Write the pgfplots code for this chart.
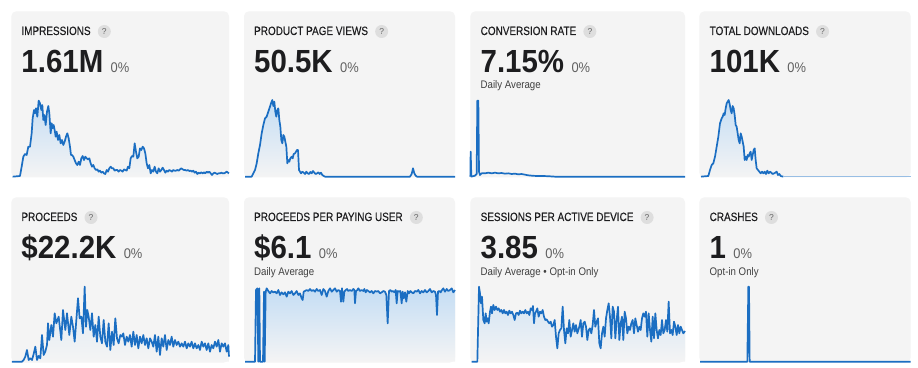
\documentclass[border=0pt]{standalone}
\usepackage{pgfplots}
\pgfplotsset{compat=1.18}
\usepackage{pgfplotstable}
\usepackage{fontspec}
\setmainfont{Liberation Sans}
\newfontfamily\titlefont[FakeBold=0.25]{Liberation Sans}
\definecolor{card}{HTML}{F4F4F4}
\definecolor{lnc}{HTML}{1B6EC2}
\definecolor{fillb}{HTML}{C4DDF4}
\definecolor{qbg}{HTML}{DEDEDE}
\definecolor{ink}{HTML}{1D1D1F}

\pgfplotsset{
 panel/.style={x=0.33333pt, y=0.33333pt, ymin=0, ymax=235, axis lines=none, clip=false, anchor=south west, ticks=none},
 ln/.style={draw=lnc, line width=1.7pt, line join=round, mark=none},
 ar/.style={draw=none, top color=fillb, bottom color=card}
}

% ---------- data: x and y read in pixels of a 3x crop; y measured downward ----------
\pgfplotstableread{
x y
38 530
60 528
65 500
70 470
75 462
80 465
85 440
90 440
95 400
98 355
102 330
105 340
108 325
112 350
116 302
120 310
124 330
127 315
130 360
133 345
137 375
141 335
145 318
148 340
152 400
155 370
158 385
161 375
164 390
167 410
170 395
174 420
178 405
182 430
186 420
190 435
194 425
198 410
202 400
206 415
210 440
213 465
216 465
220 470
224 480
228 490
232 495
236 485
240 495
244 475
248 468
252 480
256 470
260 475
264 478
268 475
272 490
276 500
280 495
284 505
288 510
292 508
296 515
300 512
304 518
308 515
312 520
316 522
320 510
324 515
328 505
332 500
336 505
340 505
344 512
348 510
352 510
356 515
360 510
364 512
368 515
372 508
376 510
380 512
384 500
388 505
392 475
396 468
400 470
404 430
408 455
412 475
416 470
420 445
424 450
428 440
432 445
436 460
440 490
444 505
448 495
452 520
456 510
460 515
464 500
468 515
472 520
476 505
480 515
484 510
488 503
492 510
496 518
500 512
504 515
508 510
512 512
516 515
520 510
524 512
528 512
532 510
536 512
540 508
544 505
548 508
552 510
556 510
560 512
564 510
568 513
572 512
576 515
580 512
584 518
588 515
592 522
596 518
600 520
604 517
608 520
612 517
616 520
620 515
624 518
628 515
632 520
636 525
640 520
644 518
648 520
652 522
656 520
660 520
664 518
668 520
672 520
676 518
680 515
684 518
687 520
}\dataA

\pgfplotstableread{
x y
30 530
50 530
55 520
60 510
65 490
70 460
75 435
80 400
85 375
90 355
95 350
100 335
105 320
108 310
112 300
115 318
118 305
121 335
124 350
127 330
130 325
133 360
136 380
139 420
142 430
145 405
148 410
151 425
154 440
157 490
160 480
163 485
166 475
170 470
173 475
176 462
180 460
183 455
186 450
189 450
192 510
195 515
198 520
202 515
206 518
210 522
214 515
218 520
222 522
226 516
230 520
234 513
238 518
242 522
246 520
250 517
254 522
258 518
262 525
266 528
270 530
525 530
530 522
534 505
538 520
542 527
546 530
660 530
}\dataB

\pgfplotstableread{
x y
31 530
32 455
34 530
45 527
50 522
52 302
55 302
57 515
60 525
65 520
75 520
85 518
95 520
105 518
115 520
125 519
135 521
145 520
155 522
165 521
175 523
185 522
195 524
205 526
215 527
230 528
250 528
270 529
285 530
675 530
}\dataC

\pgfplotstableread{
x y
33 530
55 528
60 510
65 495
70 490
75 470
80 440
85 410
90 370
95 355
98 350
101 340
104 345
107 325
110 310
113 305
116 300
119 312
122 330
125 340
128 318
131 325
134 345
137 375
140 380
143 400
146 420
149 430
152 400
155 410
158 425
161 440
164 480
167 470
170 480
173 465
176 470
179 460
182 455
185 480
188 465
191 450
194 445
197 480
200 505
204 510
208 515
212 520
216 515
220 520
224 515
228 522
232 512
236 520
240 515
244 518
248 522
252 520
256 518
260 515
264 525
268 522
272 528
280 530
}\dataD

\pgfplotstableread{
x y
36 530
66 530
71 525
76 515
81 495
86 525
91 520
96 525
101 507
106 485
111 525
116 513
121 520
126 450
131 510
136 500
141 480
144 415
148 465
154 420
159 455
164 385
169 415
176 395
184 465
189 375
196 435
201 385
208 450
214 395
219 425
224 470
229 405
234 340
239 400
244 395
249 445
254 305
258 425
262 375
266 395
271 435
276 385
281 455
286 420
291 470
296 395
301 455
306 475
311 405
316 470
321 485
326 415
331 495
336 440
341 480
346 400
351 460
356 475
361 450
366 455
370 445
375 480
380 455
385 470
390 450
395 485
400 440
405 480
410 450
415 490
420 455
425 475
430 450
435 480
440 460
445 490
450 460
455 470
460 485
465 450
470 500
475 455
480 510
485 460
490 485
495 450
500 495
505 465
510 480
515 455
520 485
525 465
530 480
535 470
540 485
545 475
550 485
555 470
560 490
565 475
570 485
575 470
580 490
585 475
590 490
595 480
600 495
605 470
610 485
615 475
620 495
625 475
630 500
635 480
640 490
645 470
650 485
655 465
660 500
665 475
670 485
675 475
680 500
685 480
687 515
}\dataE

\pgfplotstableread{
x y
30 530
60 530
63 315
67 310
70 530
73 310
75 530
84 530
87 320
89 530
92 320
95 310
100 318
105 325
110 318
115 322
120 320
125 325
130 315
135 330
140 322
145 328
150 322
155 335
160 320
165 325
170 318
175 330
180 325
185 318
190 330
195 325
200 340
203 345
206 320
210 318
215 315
220 318
225 312
230 318
235 315
240 320
245 312
250 318
255 315
260 330
265 312
270 318
275 335
280 318
285 310
290 320
295 315
300 310
305 320
310 315
315 318
318 350
321 310
325 350
328 320
332 315
336 312
340 318
345 315
350 318
355 312
358 315
360 355
363 318
367 315
370 310
375 318
380 315
385 318
388 312
392 322
396 315
400 318
405 322
410 318
415 325
420 318
425 320
430 318
435 325
440 322
445 318
450 320
454 330
458 415
462 318
466 315
470 320
474 318
478 322
482 315
485 355
488 318
492 320
496 318
500 355
503 320
506 340
510 322
514 350
518 318
522 325
526 318
530 322
535 325
540 318
545 320
550 315
555 325
560 318
565 322
570 315
575 322
580 318
585 312
590 322
595 318
600 320
603 330
606 390
609 320
613 318
617 322
621 315
625 310
630 320
635 312
640 318
645 315
650 310
655 322
660 315
}\dataF

\pgfplotstableread{
x y
35 530
52 530
57 305
60 325
63 355
66 335
70 405
74 415
77 385
80 410
83 400
86 415
90 380
93 365
96 385
100 360
104 375
108 365
112 375
116 370
120 380
124 375
128 385
132 375
136 385
140 380
144 390
148 377
152 385
156 380
160 390
164 405
168 385
172 383
176 390
180 377
184 385
188 380
192 385
196 375
200 385
204 380
208 390
212 370
216 375
219 363
222 415
225 385
228 380
232 370
236 395
240 380
244 385
248 375
252 395
256 405
260 403
264 410
268 415
272 410
276 425
280 420
284 405
288 455
292 490
296 445
300 435
304 430
308 365
312 435
316 475
320 430
324 445
328 405
332 455
336 435
340 415
344 440
348 420
352 445
358 425
362 405
366 455
370 415
374 410
378 425
382 465
386 435
390 430
394 445
398 420
402 375
406 425
410 410
414 400
418 475
422 490
426 445
430 425
434 455
438 400
442 375
446 355
450 395
454 460
458 365
462 380
466 460
470 405
474 365
478 465
482 415
486 395
490 465
494 380
498 400
502 445
506 425
510 435
514 415
518 405
522 445
526 400
530 420
534 440
538 425
542 435
546 400
550 385
554 395
558 380
562 455
566 385
570 435
574 470
578 395
582 460
586 385
590 435
594 460
598 435
602 450
606 405
610 445
614 435
618 405
622 440
626 350
630 445
634 435
638 450
642 410
646 425
650 450
654 420
658 445
662 425
666 435
670 445
675 438
}\dataG

\pgfplotstableread{
x y
30 530
172 530
175 305
177 305
179 530
662 530
}\dataH

\begin{document}
\begin{tikzpicture}
\useasboundingbox (0pt,0pt) rectangle (918pt,367pt);
\fill[white] (0pt,0pt) rectangle (918pt,367pt);

% cards
\fill[card, rounded corners=5pt] (11.3pt,189.5pt) rectangle (229pt,355.7pt);
\fill[card, rounded corners=5pt] (244pt,189.5pt) rectangle (455pt,355.7pt);
\fill[card, rounded corners=5pt] (470.3pt,189.5pt) rectangle (685pt,355.7pt);
\fill[card, rounded corners=5pt] (699.3pt,189.5pt) rectangle (910.7pt,355.7pt);
\fill[card, rounded corners=5pt] (11.3pt,4.5pt) rectangle (229pt,169.7pt);
\fill[card, rounded corners=5pt] (244pt,4.5pt) rectangle (455pt,169.7pt);
\fill[card, rounded corners=5pt] (470.3pt,4.5pt) rectangle (685pt,169.7pt);
\fill[card, rounded corners=5pt] (699.3pt,4.5pt) rectangle (910.7pt,169.7pt);

% ---- row 1 charts ----
\begin{axis}[panel, at={(11.33pt,190.33pt)}, xmin=34, xmax=687]
\addplot[ar] table[x=x, y expr=530-\thisrow{y}] {\dataA} \closedcycle;
\addplot[ln] table[x=x, y expr=530-\thisrow{y}] {\dataA};
\end{axis}
\begin{axis}[panel, at={(244pt,190.33pt)}, xmin=27, xmax=660]
\addplot[ar] table[x=x, y expr=530-\thisrow{y}] {\dataB} \closedcycle;
\addplot[ln] table[x=x, y expr=530-\thisrow{y}] {\dataB};
\end{axis}
\begin{axis}[panel, at={(470.33pt,190.33pt)}, xmin=31, xmax=675]
\addplot[ln] table[x=x, y expr=530-\thisrow{y}] {\dataC};
\end{axis}
\begin{axis}[panel, at={(699.33pt,190.33pt)}, xmin=28, xmax=662]
\addplot[ar] table[x=x, y expr=530-\thisrow{y}] {\dataD} \closedcycle;
\addplot[ln] table[x=x, y expr=530-\thisrow{y}] {\dataD};
\addplot[draw=lnc!45, line width=1.3pt] coordinates {(280,0) (662,0)};
\end{axis}

% ---- row 2 charts ----
\begin{axis}[panel, at={(11.33pt,5.33pt)}, xmin=34, xmax=687]
\addplot[draw=none, top color=fillb!55!card, bottom color=card] table[x=x, y expr=530-\thisrow{y}] {\dataE} \closedcycle;
\addplot[ln] table[x=x, y expr=530-\thisrow{y}] {\dataE};
\end{axis}
\begin{axis}[panel, at={(244pt,5.33pt)}, xmin=27, xmax=660]
\addplot[ar] table[x=x, y expr=530-\thisrow{y}] {\dataF} \closedcycle;
\addplot[ln] table[x=x, y expr=530-\thisrow{y}] {\dataF};
\end{axis}
\begin{axis}[panel, at={(470.33pt,5.33pt)}, xmin=31, xmax=675]
\addplot[draw=none, top color=fillb!80!card, bottom color=card] table[x=x, y expr=530-\thisrow{y}] {\dataG} \closedcycle;
\addplot[ln] table[x=x, y expr=530-\thisrow{y}] {\dataG};
\end{axis}
\begin{axis}[panel, at={(699.33pt,5.33pt)}, xmin=28, xmax=662]
\addplot[ln] table[x=x, y expr=530-\thisrow{y}] {\dataH};
\end{axis}

% ---- texts ----
\newcommand{\qmark}[1]{\node[circle, fill=qbg, inner sep=0pt, minimum size=13pt, font=\fontsize{8.5}{8.5}\selectfont, text=black!60] at ([xshift=13.5pt, yshift=3.5pt]#1.base east) {?};}
\tikzset{ttl/.style={anchor=base west, inner sep=0pt, xscale=0.83, font=\titlefont\fontsize{12}{13}\selectfont, text=ink},
 big/.style={anchor=base west, inner sep=0pt, xscale=0.92, font=\bfseries\fontsize{32}{32}\selectfont, text=ink},
 sub/.style={anchor=base west, inner sep=0pt, xscale=0.88, font=\fontsize{11}{12}\selectfont, text=black!75}}
\newcommand{\pct}{\hspace{8pt}{\mdseries\fontsize{14}{14}\selectfont\color{black!62}0\%}}

\node[ttl] (t1) at (21.3pt,332pt) {IMPRESSIONS}; \qmark{t1}
\node[big] at (21.3pt,294pt) {1.61M\pct};

\node[ttl] (t2) at (254pt,332pt) {PRODUCT PAGE VIEWS}; \qmark{t2}
\node[big] at (254pt,294pt) {50.5K\pct};

\node[ttl] (t3) at (480.5pt,332pt) {CONVERSION RATE}; \qmark{t3}
\node[big] at (480.5pt,294pt) {7.15\%\pct};
\node[sub] at (480.5pt,278pt) {Daily Average};

\node[ttl] (t4) at (709.5pt,332pt) {TOTAL DOWNLOADS}; \qmark{t4}
\node[big] at (709.5pt,294pt) {101K\pct};

\node[ttl] (t5) at (21.3pt,146pt) {PROCEEDS}; \qmark{t5}
\node[big] at (21.3pt,108pt) {\$22.2K\pct};

\node[ttl] (t6) at (254pt,146pt) {PROCEEDS PER PAYING USER}; \qmark{t6}
\node[big] at (254pt,108pt) {\$6.1\pct};
\node[sub] at (254pt,92pt) {Daily Average};

\node[ttl] (t7) at (480.5pt,146pt) {SESSIONS PER ACTIVE DEVICE}; \qmark{t7}
\node[big] at (480.5pt,108pt) {3.85\pct};
\node[sub] at (480.5pt,92pt) {Daily Average • Opt-in Only};

\node[ttl] (t8) at (709.5pt,146pt) {CRASHES}; \qmark{t8}
\node[big] at (709.5pt,108pt) {1\pct};
\node[sub] at (709.5pt,92pt) {Opt-in Only};
\end{tikzpicture}
\end{document}
